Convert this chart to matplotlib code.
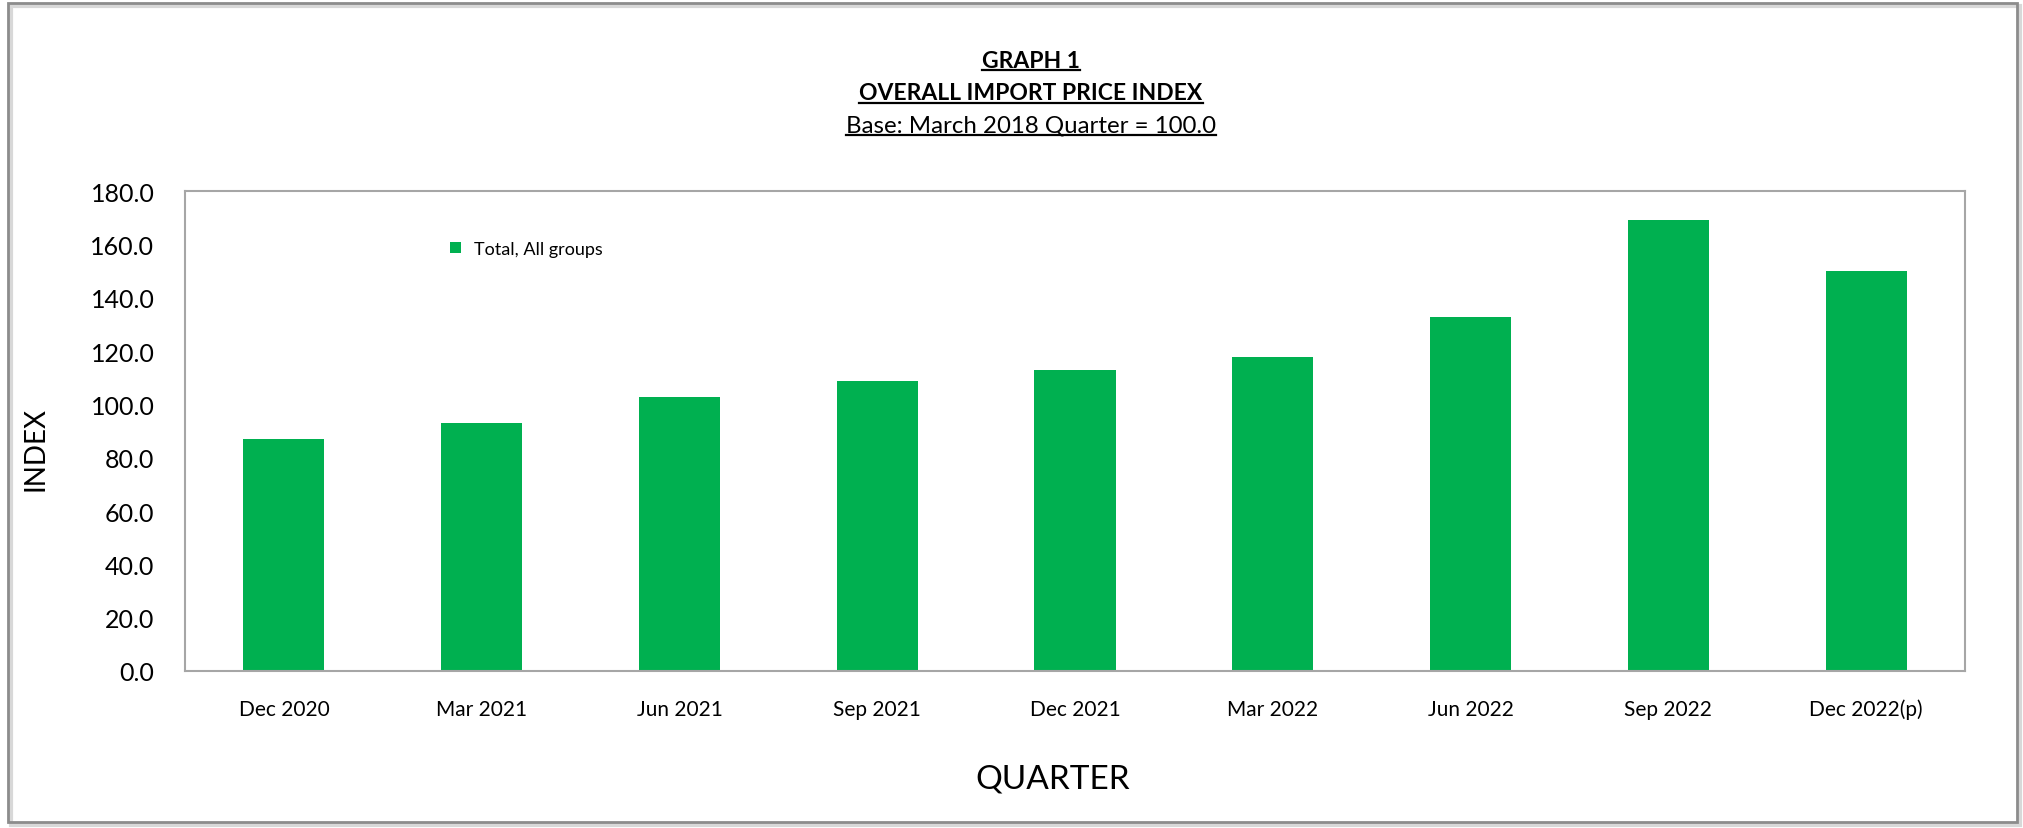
import matplotlib
matplotlib.use("Agg")
import matplotlib.pyplot as plt
from matplotlib.patches import Rectangle
from matplotlib.lines import Line2D

quarters = ["Dec 2020", "Mar 2021", "Jun 2021", "Sep 2021", "Dec 2021",
            "Mar 2022", "Jun 2022", "Sep 2022", "Dec 2022(p)"]
index_values = [87.1, 92.9, 102.6, 108.9, 112.7, 117.6, 132.6, 169.3, 150.0]
y_ticks = [0, 20, 40, 60, 80, 100, 120, 140, 160, 180]
series_name = "Total, All groups"

plt.rcParams['font.family'] = ['Lato', 'DejaVu Sans']

W, H = 2024, 829
fig = plt.figure(figsize=(W / 100, H / 100), dpi=100)
fig.patch.set_facecolor('white')

# outer chart border (with a soft shadow)
fig.add_artist(Rectangle((11 / W, 1 - 826 / H), 2009 / W, 819 / H, transform=fig.transFigure,
                         facecolor='none', edgecolor='#d8d8d8', linewidth=3))
fig.add_artist(Rectangle((8 / W, 1 - 823 / H), 2009 / W, 819 / H, transform=fig.transFigure,
                         facecolor='none', edgecolor='#8c8c8c', linewidth=2))

ax = fig.add_axes([185 / W, 1 - 672 / H, (1965 - 185) / W, (672 - 192) / H])
x = range(len(quarters))
bars = ax.bar(x, index_values, width=0.41, color='#00B050', label=series_name)

ax.set_xlim(-0.5, len(quarters) - 0.5)
ax.set_ylim(0, 180)
ax.set_yticks(y_ticks)
ax.set_yticklabels([f"{v:.1f}" for v in y_ticks], fontsize=18)
ax.set_xticks(list(x))
ax.set_xticklabels(quarters, fontsize=15)
ax.tick_params(axis='both', length=0)
ax.tick_params(axis='y', pad=22)
ax.tick_params(axis='x', pad=20)
for s in ax.spines.values():
    s.set_color('#a6a6a6')
    s.set_linewidth(1.5)

fig.text(36 / W, 1 - 449 / H, "INDEX", rotation=90, ha='center', va='center', fontsize=20)
fig.text(1053 / W, 1 - 780 / H, "QUARTER", ha='center', va='center', fontsize=24)

leg = ax.legend(loc='upper left', bbox_to_anchor=(0.14, 0.93), frameon=False,
                fontsize=13, handlelength=0.6, handleheight=0.6, handletextpad=0.7)

# titles (underlined)
titles = [
    ("GRAPH 1", 61, 'bold', 16.5),
    ("OVERALL IMPORT PRICE INDEX", 94, 'bold', 16.5),
    ("Base: March 2018 Quarter = 100.0", 126, 'normal', 17.3),
]
title_texts = []
for txt, ypix, wt, fs in titles:
    t = fig.text(1031 / W, 1 - ypix / H, txt, ha='center', va='center',
                 fontsize=fs, fontweight=wt)
    title_texts.append(t)

fig.canvas.draw()
renderer = fig.canvas.get_renderer()
for t in title_texts:
    bb = t.get_window_extent(renderer)
    yline = bb.y0 + 1
    fig.add_artist(Line2D([bb.x0 / W, bb.x1 / W], [yline / H, yline / H],
                          transform=fig.transFigure, color='black', linewidth=1.6))

fig.savefig("out.png", dpi=100, facecolor='white')
